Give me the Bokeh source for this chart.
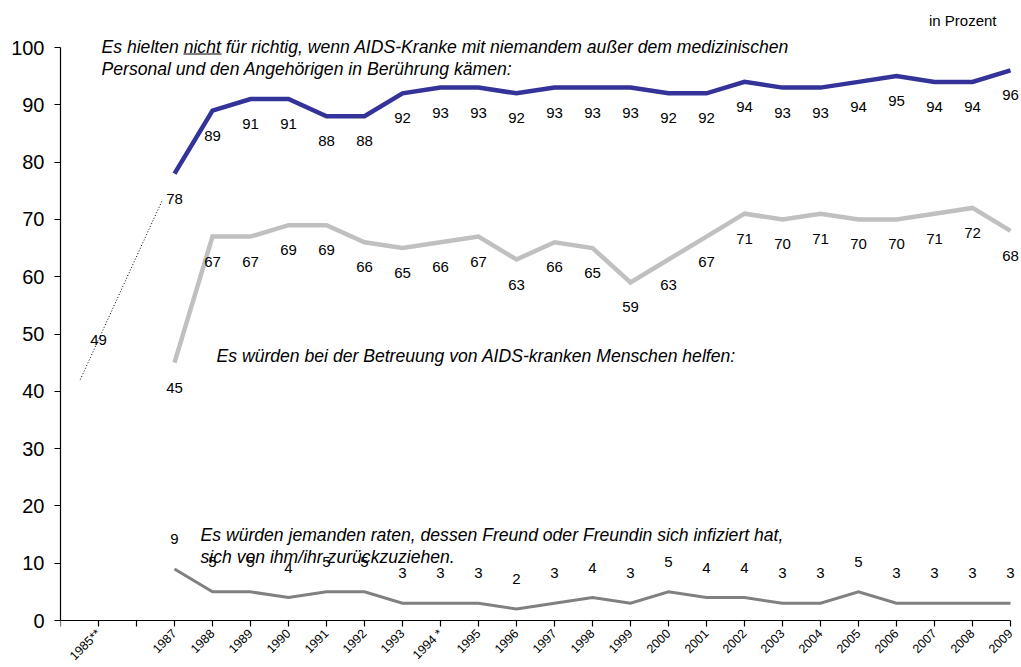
import math
from bokeh.plotting import figure
from bokeh.models import ColumnDataSource, LabelSet, Label, Range1d, FixedTicker
from bokeh.embed import file_html
from bokeh.resources import INLINE
from bokeh.core.properties import value

# ---------------- data ----------------
tick_labels = ["", "1985**", "", "1987", "1988", "1989", "1990", "1991", "1992",
               "1993", "1994 *", "1995", "1996", "1997", "1998", "1999", "2000",
               "2001", "2002", "2003", "2004", "2005", "2006", "2007", "2008", "2009"]
years = ["1987", "1988", "1989", "1990", "1991", "1992", "1993", "1994 *", "1995",
         "1996", "1997", "1998", "1999", "2000", "2001", "2002", "2003", "2004",
         "2005", "2006", "2007", "2008", "2009"]
nicht_richtig = [78, 89, 91, 91, 88, 88, 92, 93, 93, 92, 93, 93, 93, 92, 92, 94,
                 93, 93, 94, 95, 94, 94, 96]
helfen = [45, 67, 67, 69, 69, 66, 65, 66, 67, 63, 66, 65, 59, 63, 67, 71, 70, 71,
          70, 70, 71, 72, 68]
raten = [9, 5, 5, 4, 5, 5, 3, 3, 3, 2, 3, 4, 3, 5, 4, 4, 3, 3, 5, 3, 3, 3, 3]
early_year = "1985**"
early_value = 49

text_nicht_1 = "Es hielten nicht für richtig, wenn  AIDS-Kranke mit niemandem außer dem medizinischen"
text_nicht_2 = "Personal und den Angehörigen in Berührung kämen:"
text_helfen = "Es würden bei der Betreuung von AIDS-kranken Menschen helfen:"
text_raten_1 = "Es würden jemanden raten, dessen Freund oder Freundin sich infiziert hat,"
text_raten_2 = "sich von ihm/ihr zurückzuziehen."
unit_text = "in Prozent"

# ---------------- layout / style constants ----------------
FONT = "Liberation Sans"
BLUE = "#333399"
LIGHT = "#c0c0c0"
DARK = "#808080"
W, H = 1021, 667
AX_LEFT, AX_RIGHT = 60, 1010      # screen px of x = 0 and last tick
AX_TOP, AX_BOTTOM = 47, 620       # screen px of y = 100 and y = 0
FR_TOP, FR_RIGHT = 5, 1020        # frame extended so that texts are not clipped
X_LAST = len(tick_labels) - 1
PX_X = (AX_RIGHT - AX_LEFT) / X_LAST
PX_Y = (AX_BOTTOM - AX_TOP) / 100.0


def sx(px):   # screen pixel -> data x
    return (px - AX_LEFT) / PX_X


def sy(py):   # screen pixel -> data y
    return (AX_BOTTOM - py) / PX_Y


xpos = [tick_labels.index(y) for y in years]
x_early = tick_labels.index(early_year)

p = figure(width=W, height=H, output_backend="svg", toolbar_location=None,
           x_range=Range1d(0, sx(FR_RIGHT)), y_range=Range1d(sy(H), sy(FR_TOP)),
           min_border_left=AX_LEFT, min_border_right=W - FR_RIGHT,
           min_border_top=FR_TOP, min_border_bottom=0)
p.background_fill_color = "white"
p.border_fill_color = "white"
p.outline_line_color = None
p.grid.visible = False

# axes
p.yaxis.ticker = FixedTicker(ticks=list(range(0, 101, 10)))
p.yaxis.bounds = (0, 100)
p.xaxis.ticker = FixedTicker(ticks=list(range(0, X_LAST + 1)))
p.xaxis.bounds = (0, X_LAST)
p.xaxis.fixed_location = 0
p.xaxis.major_label_overrides = {i: lab for i, lab in enumerate(tick_labels)}
p.xaxis.major_label_orientation = math.pi / 4
for ax in (p.xaxis, p.yaxis):
    ax.axis_line_color = "black"
    ax.axis_line_width = 1.2
    ax.major_tick_line_color = "black"
    ax.major_tick_line_width = 1.2
    ax.major_tick_in = 0
    ax.major_tick_out = 6
    ax.minor_tick_line_color = None
    ax.major_label_text_font = FONT
    ax.major_label_text_color = "black"
p.yaxis.major_label_text_font_size = "20px"
p.yaxis.major_label_standoff = 10
p.xaxis.major_label_text_font_size = "12.5px"
p.xaxis.major_label_standoff = 5

# dotted connector between 1985 and 1987 (drawn slightly beyond / short of points)
t0, t1 = -0.24, 0.84
cx = [x_early + t * (xpos[0] - x_early) for t in (t0, t1)]
cy = [early_value + t * (nicht_richtig[0] - early_value) for t in (t0, t1)]
p.line(cx, cy, line_color="black", line_width=1, line_dash="1 2")

# series lines
p.line(xpos, helfen, line_color=LIGHT, line_width=4.5, line_join="miter")
p.line(xpos, nicht_richtig, line_color=BLUE, line_width=4.5, line_join="miter")
p.line(xpos, raten, line_color=DARK, line_width=3, line_join="miter")

# underline of "nicht"
p.segment(x0=[sx(183)], y0=[sy(53.5)], x1=[sx(221)], y1=[sy(53.5)],
          line_color="black", line_width=1)


# data labels
def add_labels(xs, ys, dy):
    src = ColumnDataSource(dict(x=xs, y=ys, t=[str(v) for v in ys]))
    p.add_layout(LabelSet(x="x", y="y", text="t", source=src, y_offset=dy,
                          text_align="center", text_baseline="middle",
                          text_font=value(FONT), text_font_size="15px",
                          text_color="black"))


add_labels(xpos, nicht_richtig, -25)
add_labels(xpos, helfen, -25)
add_labels(xpos, raten, 30)
add_labels([x_early], [early_value], 0)


# annotations
def note(text, px, py, size="17.6px", style="italic", align="left"):
    p.add_layout(Label(x=sx(px), y=sy(py), text=text, text_align=align,
                       text_baseline="middle", text_font=FONT,
                       text_font_style=style, text_font_size=size,
                       text_color="black"))


note(text_nicht_1, 101, 46)
note(text_nicht_2, 101, 68.5)
note(text_helfen, 216, 355)
note(text_raten_1, 200, 534)
note(text_raten_2, 200, 556)
note(unit_text, 996, 20, size="15px", style="normal", align="right")

open("out.html", "w").write(file_html(p, INLINE))
